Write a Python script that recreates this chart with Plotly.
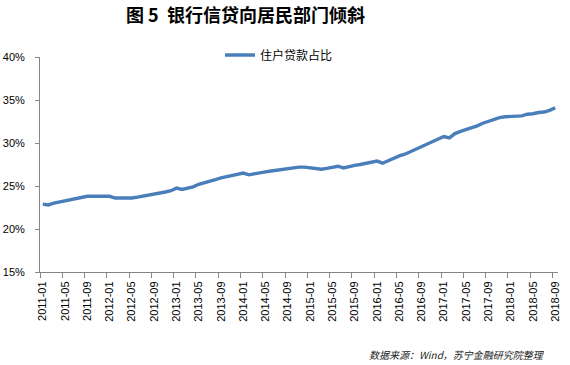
import plotly.graph_objects as go

months = [f"{y}-{m:02d}" for y in range(2011, 2019) for m in range(1, 13)][:93]

share = [
    22.9, 22.8, 23.0, 23.15, 23.3, 23.45, 23.6, 23.7, 23.8, 23.8, 23.8, 23.8,
    23.8, 23.6, 23.6, 23.6, 23.6, 23.7, 23.8, 23.95, 24.1, 24.15, 24.3, 24.45,
    24.75, 24.6, 24.7, 24.9, 25.2, 25.35, 25.55, 25.75, 25.95, 26.1, 26.25, 26.35,
    26.5, 26.3, 26.45, 26.55, 26.65, 26.75, 26.85, 26.95, 27.1, 27.2, 27.2, 27.2,
    27.1, 27.05, 26.95, 27.05, 27.15, 27.3, 27.1, 27.3, 27.4, 27.5, 27.6, 27.8,
    27.9, 27.65, 27.95, 28.2, 28.5, 28.7, 29.0, 29.3, 29.6, 29.9, 30.25, 30.55,
    30.75, 30.6, 31.1, 31.35, 31.55, 31.8, 32.0, 32.3, 32.55, 32.75, 32.95, 33.05,
    33.1, 33.15, 33.15, 33.35, 33.4, 33.55, 33.6, 33.8, 34.1,
]

series_name = "住户贷款占比"
title_text = "图 5  银行信贷向居民部门倾斜"
source_text = "数据来源：Wind，苏宁金融研究院整理"
y_ticks = [15, 20, 25, 30, 35, 40]
y_tick_labels = ["15%", "20%", "25%", "30%", "35%", "40%"]

W, H = 570, 365
L, T, R, B = 40, 57, 12, 93


def px_x(px):
    return (px - 40) / 518


def px_y(py):
    return (272 - py) / 215


fig = go.Figure()
fig.add_trace(go.Scatter(
    x=months, y=share, mode="lines", name=series_name,
    line=dict(color="#4A7EBB", width=3.4),
))

fig.update_layout(
    width=W, height=H,
    margin=dict(l=L, r=R, t=T, b=B, autoexpand=False),
    paper_bgcolor="white", plot_bgcolor="white",
    font=dict(family="Liberation Sans, Arial, sans-serif", size=11, color="black"),
    showlegend=True,
    legend=dict(
        x=px_x(220), y=px_y(55), xanchor="left", yanchor="middle",
        orientation="h", itemwidth=30,
        font=dict(family="Noto Sans CJK SC", size=12, color="black"),
        bgcolor="rgba(0,0,0,0)",
    ),
    xaxis=dict(
        type="category", range=[-0.5, 92.5], dtick=4, tickson="boundaries",
        ticks="outside", ticklen=5, tickcolor="#868686",
        showline=True, linecolor="#868686", linewidth=1,
        showgrid=False, tickangle=-90, zeroline=False, automargin=False,
        tickfont=dict(size=11), ticklabelstandoff=4,
    ),
    yaxis=dict(
        range=[15, 40], tickvals=y_ticks, ticktext=y_tick_labels,
        ticks="outside", ticklen=4, tickcolor="#868686",
        showline=True, linecolor="#868686", linewidth=1,
        showgrid=False, zeroline=False, ticklabelstandoff=8, automargin=False,
        tickfont=dict(size=11),
    ),
    annotations=[
        dict(text=f"<b>{title_text}</b>", xref="paper", yref="paper",
             x=px_x(245), y=px_y(14), xanchor="center", yanchor="middle",
             showarrow=False, font=dict(family="Noto Sans CJK SC", size=18, color="black")),
        dict(text=f"<i>{source_text}</i>", xref="paper", yref="paper",
             x=px_x(457), y=px_y(354), xanchor="center", yanchor="middle",
             showarrow=False, font=dict(family="Noto Sans CJK SC", size=10, color="#222222")),
    ],
)

fig.write_html("out.html", config={"displayModeBar": False},
               post_script="document.body.style.margin='0';")
